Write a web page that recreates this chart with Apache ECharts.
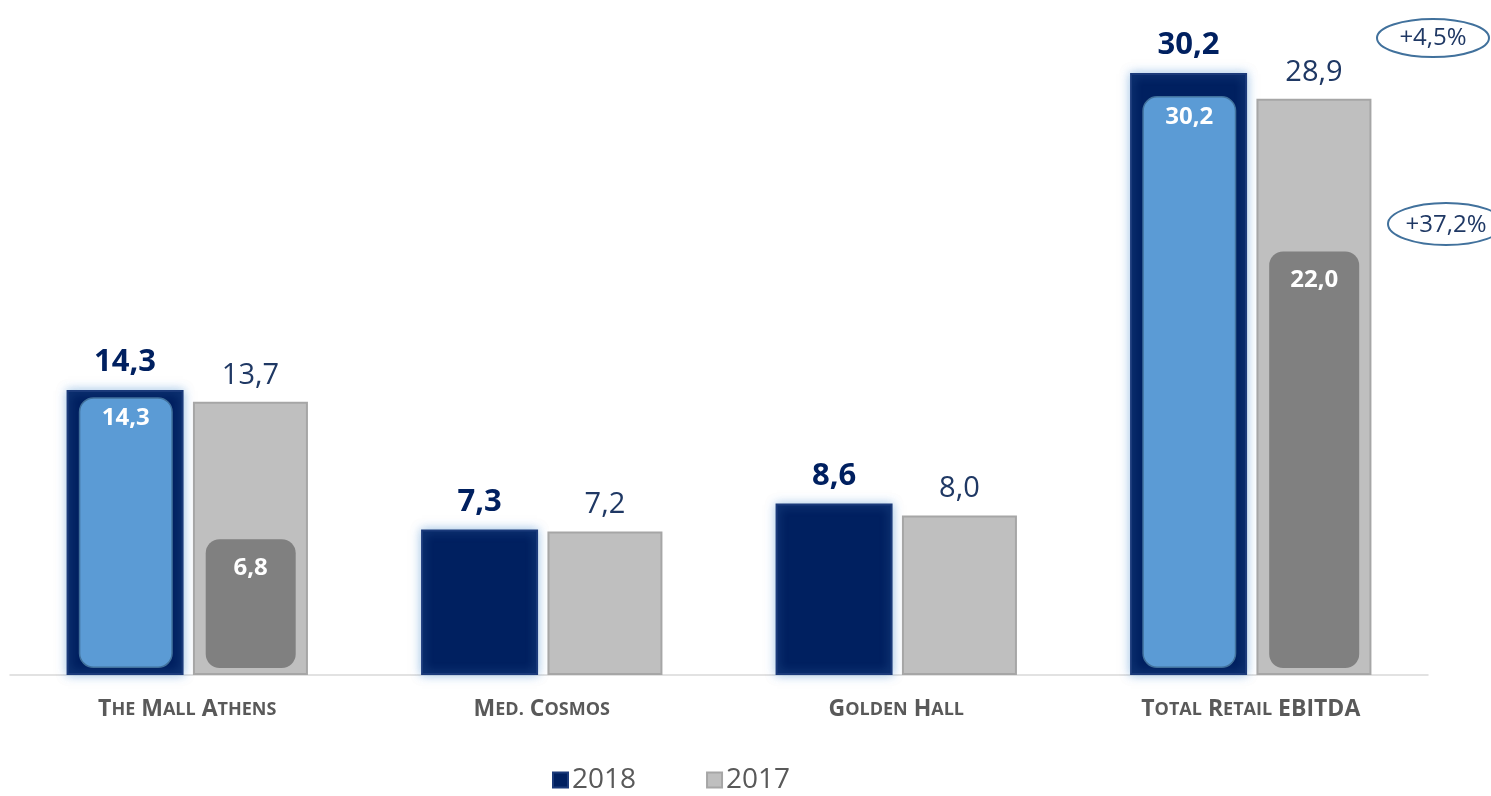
<!DOCTYPE html>
<html><head><meta charset="utf-8">
<script src="https://cdn.jsdelivr.net/npm/echarts@6/dist/echarts.min.js"></script>
<style>html,body{margin:0;padding:0;background:#fff;}#c{width:1491px;height:796px;}</style>
</head><body><div id="c"></div>
<script>
const categories = [
  [['T','HE'],['M','ALL'],['A','THENS']],
  [['M','ED.'],['C','OSMOS']],
  [['G','OLDEN'],['H','ALL']],
  [['T','OTAL'],['R','ETAIL'],['EBITDA','']]
];
const values2018 = [14.3, 7.3, 8.6, 30.2];
const values2017 = [13.7, 7.2, 8.0, 28.9];
const inner2018 = [14.3, null, null, 30.2];
const inner2017 = [6.8, null, null, 22.0];
const legendNames = ['2018', '2017'];
const growthLabels = ['+4,5%', '+37,2%'];

const FONT = '"Open Sans", Lato, sans-serif';
const fmt = v => (v == null ? '' : v.toFixed(1).replace('.', ','));
const catText = categories.map(words => words.map(w => '{b|' + w[0] + '}' + (w[1] ? '{s|' + w[1] + '}' : '')).join('{b| }'));

const chart = echarts.init(document.getElementById('c'));
chart.setOption({
  animation: false,
  backgroundColor: '#fff',
  legend: {
    data: legendNames,
    bottom: -3,
    left: 547,
    itemWidth: 15, itemHeight: 15, itemGap: 70,
    icon: 'rect',
    textStyle: { fontFamily: FONT, fontSize: 28, color: '#595959', padding: [0, 0, 0, -1] }
  },
  grid: [
    { left: 10, right: 63, top: 37, bottom: 121 },
    { left: 10, right: 63, top: 62, bottom: 128 }
  ],
  xAxis: [
    { type: 'category', gridIndex: 0, data: catText,
      axisLine: { lineStyle: { color: '#d9d9d9', width: 1.5 } },
      axisTick: { show: false },
      axisLabel: { margin: 23, interval: 0,
        rich: {
          b: { fontFamily: FONT, fontWeight: 'bold', fontSize: 23, color: '#595959' },
          s: { fontFamily: FONT, fontWeight: 'bold', fontSize: 18, color: '#595959' }
        } } },
    { type: 'category', gridIndex: 1, data: catText, show: false }
  ],
  yAxis: [
    { type: 'value', gridIndex: 0, min: 0, max: 32, show: false, splitLine: { show: false } },
    { type: 'value', gridIndex: 1, min: 0, max: 32, show: false, splitLine: { show: false } }
  ],
  series: [
    { name: '2018', type: 'bar', xAxisIndex: 0, yAxisIndex: 0, data: values2018,
      barWidth: 117, barGap: '8%', barCategoryGap: '31%',
      itemStyle: { color: '#002060', borderColor: '#1b3a7a', borderWidth: 2,
        shadowColor: 'rgba(91,155,213,0.55)', shadowBlur: 10 },
      label: { show: true, position: 'top', distance: 12, formatter: p => fmt(p.value),
        fontFamily: FONT, fontWeight: 'bold', fontSize: 31, color: '#002060' } },
    { name: '2017', type: 'bar', xAxisIndex: 0, yAxisIndex: 0, data: values2017,
      barWidth: 115,
      itemStyle: { color: '#bfbfbf', borderColor: '#a6a6a6', borderWidth: 2 },
      label: { show: true, position: 'top', distance: 12, formatter: p => fmt(p.value),
        fontFamily: FONT, fontSize: 29, color: '#1f3864' } },
    { name: 'inner2018', type: 'bar', xAxisIndex: 1, yAxisIndex: 1, data: inner2018,
      barWidth: 94, barGap: '35%', barCategoryGap: '31%',
      itemStyle: { color: '#5b9bd5', borderColor: '#41719c', borderWidth: 1.5, borderRadius: 14 },
      label: { show: true, position: 'insideTop', distance: 9, formatter: p => fmt(p.value),
        fontFamily: FONT, fontWeight: 'bold', fontSize: 24, color: '#ffffff' } },
    { name: 'inner2017', type: 'bar', xAxisIndex: 1, yAxisIndex: 1, data: inner2017,
      barWidth: 90,
      itemStyle: { color: '#808080', borderRadius: 14 },
      label: { show: true, position: 'insideTop', distance: 17, formatter: p => fmt(p.value),
        fontFamily: FONT, fontWeight: 'bold', fontSize: 24, color: '#ffffff' } }
  ],
  graphic: [
    { type: 'ellipse', shape: { cx: 1433, cy: 38, rx: 56, ry: 19 },
      style: { fill: 'none', stroke: '#41719c', lineWidth: 2 } },
    { type: 'text', x: 1433, y: 38, style: { text: growthLabels[0], fontFamily: FONT, fontSize: 24,
      fill: '#1f3864', align: 'center', verticalAlign: 'middle' } },
    { type: 'ellipse', shape: { cx: 1446, cy: 224, rx: 58, ry: 21 },
      style: { fill: 'none', stroke: '#41719c', lineWidth: 2 } },
    { type: 'text', x: 1446, y: 225, style: { text: growthLabels[1], fontFamily: FONT, fontSize: 24,
      fill: '#1f3864', align: 'center', verticalAlign: 'middle' } }
  ]
});
</script></body></html>
